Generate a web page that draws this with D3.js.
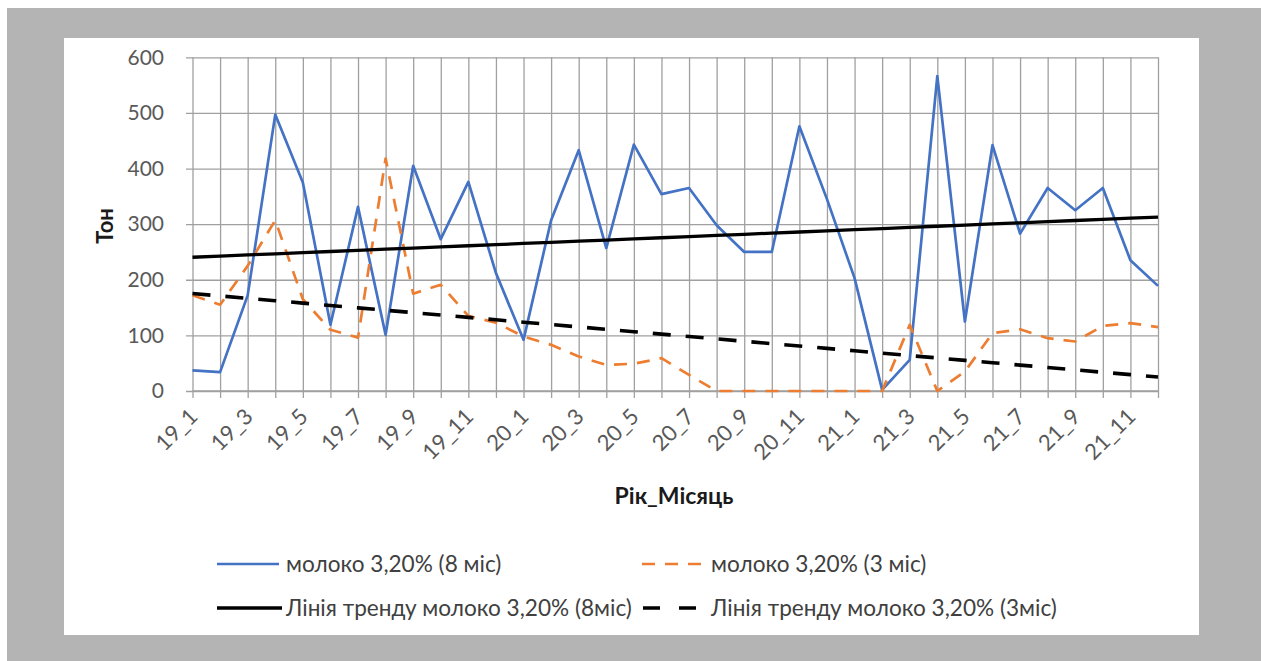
<!DOCTYPE html>
<html>
<head>
<meta charset="utf-8">
<script src="https://cdn.jsdelivr.net/npm/d3@7"></script>
<style>
  html, body { margin: 0; padding: 0; background: #fff; }
  svg { display: block; }
  text { font-family: Lato, "Open Sans", sans-serif; }
</style>
</head>
<body>
<svg id="chart" width="1261" height="661"></svg>
<script>
// Month labels, year_month
const months = [
  "19_1","19_2","19_3","19_4","19_5","19_6","19_7","19_8","19_9","19_10","19_11","19_12",
  "20_1","20_2","20_3","20_4","20_5","20_6","20_7","20_8","20_9","20_10","20_11","20_12",
  "21_1","21_2","21_3","21_4","21_5","21_6","21_7","21_8","21_9","21_10","21_11","21_12"
];

// Milk 3.20%, 8-month shelf life, tonnes
const milk8 = [
  37, 34, 172, 497, 375, 119, 331, 101, 405, 273, 376, 212,
  92, 307, 433, 257, 443, 354, 365, 298, 250, 250, 476, 345,
  203, 2, 56, 566, 125, 442, 283, 365, 325, 365, 235, 189
];

// Milk 3.20%, 3-month shelf life, tonnes
const milk3 = [
  172, 155, 225, 307, 165, 110, 96, 418, 175, 191, 135, 123,
  98, 83, 62, 47, 49, 59, 29, 0, 0, 0, 0, 0,
  0, 0, 119, 0, 35, 104, 111, 95, 89, 117, 122, 115
];

const yTicks = [0, 100, 200, 300, 400, 500, 600];

const seriesNames = [
  "молоко 3,20% (8 міс)",
  "молоко 3,20% (3 міс)",
  "Лінія тренду молоко 3,20% (8міс)",
  "Лінія тренду молоко 3,20% (3міс)"
];

const svg = d3.select("#chart");

// page frame
svg.append("rect").attr("x", 7).attr("y", 8).attr("width", 1254).attr("height", 653).attr("fill", "#b3b4b3");
svg.append("rect").attr("x", 64).attr("y", 38).attr("width", 1135).attr("height", 597).attr("fill", "#ffffff");

const plot = { left: 192.5, right: 1158, top: 57.3, bottom: 391 };

const x = d3.scalePoint().domain(months).range([plot.left, plot.right]);
const y = d3.scaleLinear().domain([0, 600]).range([plot.bottom, plot.top]);

const gridColor = "#a0a0a0";

// vertical gridlines
const xGrid = svg.append("g")
  .attr("transform", `translate(0,${plot.bottom})`)
  .call(d3.axisBottom(x).tickSize(-(plot.bottom - plot.top)).tickFormat(""));
xGrid.select(".domain").remove();
xGrid.selectAll(".tick line").attr("stroke", gridColor).attr("stroke-width", 1.3);

// horizontal gridlines + value labels
const yAxis = svg.append("g")
  .attr("transform", `translate(${plot.left - 6.5},0)`)
  .call(d3.axisLeft(y).tickValues(yTicks).tickSize(-(plot.right - plot.left + 6.5)).tickPadding(22));
yAxis.select(".domain").remove();
yAxis.selectAll(".tick line").attr("stroke", gridColor).attr("stroke-width", 1.3);
yAxis.selectAll(".tick text")
  .attr("fill", "#595959").attr("font-size", 21).attr("font-family", "Lato, sans-serif");

// category axis: tick marks and every second label
const xAxis = svg.append("g")
  .attr("transform", `translate(0,${plot.bottom})`)
  .call(d3.axisBottom(x).tickSize(7).tickFormat((d, i) => i % 2 === 0 ? d : ""));
xAxis.select(".domain").attr("stroke", gridColor).attr("stroke-width", 1.3)
  .attr("d", `M${plot.left},0H${plot.right}`);
xAxis.selectAll(".tick line").attr("stroke", gridColor).attr("stroke-width", 1.3);
xAxis.selectAll(".tick text")
  .attr("fill", "#595959").attr("font-size", 22).attr("font-family", "Lato, sans-serif")
  .attr("text-anchor", "end").attr("dy", null).attr("y", 0)
  .attr("transform", "translate(6,27) rotate(-45)");

// least-squares trend over month index
function trend(values) {
  const n = values.length;
  const xs = d3.range(n);
  const mx = d3.mean(xs), my = d3.mean(values);
  let sxy = 0, sxx = 0;
  xs.forEach((xi, i) => { sxy += (xi - mx) * (values[i] - my); sxx += (xi - mx) ** 2; });
  const b = sxy / sxx, a = my - b * mx;
  return xs.map(xi => a + b * xi);
}
const trend8 = trend(milk8);
const trend3 = trend(milk3);

const line = d3.line().x((d, i) => x(months[i])).y(d => y(d));

const styles = [
  { data: milk8, stroke: "#4472c4", width: 2.7, dash: null, keyDash: null },
  { data: milk3, stroke: "#ed7d31", width: 2.7, dash: "13,10", keyDash: "13,10" },
  { data: trend8, stroke: "#000000", width: 3.3, dash: null, keyDash: null },
  { data: trend3, stroke: "#000000", width: 3.6, dash: "18,15", keyDash: "17,19" }
];

styles.forEach(s => {
  svg.append("path")
    .datum(s.data)
    .attr("d", line)
    .attr("fill", "none")
    .attr("stroke", s.stroke)
    .attr("stroke-width", s.width)
    .attr("stroke-dasharray", s.dash)
    .attr("stroke-linejoin", "round");
});

// axis titles
svg.append("text")
  .attr("transform", "translate(113,226) rotate(-90)")
  .attr("text-anchor", "middle")
  .attr("font-size", 22).attr("font-weight", "bold").attr("fill", "#1a1a1a")
  .text("Тон");
svg.append("text")
  .attr("x", 674).attr("y", 504)
  .attr("text-anchor", "middle")
  .attr("font-size", 23).attr("font-weight", "bold").attr("fill", "#1a1a1a")
  .text("Рік_Місяць");

// legend
const legendPos = [
  { x1: 217, x2: 279, tx: 286, y: 564 },
  { x1: 642, x2: 706, tx: 711, y: 564 },
  { x1: 217, x2: 282, tx: 286, y: 608 },
  { x1: 643, x2: 696, tx: 711, y: 608 }
];
const legend = svg.append("g");
styles.forEach((s, i) => {
  const p = legendPos[i];
  legend.append("line")
    .attr("x1", p.x1).attr("x2", p.x2).attr("y1", p.y).attr("y2", p.y)
    .attr("stroke", s.stroke).attr("stroke-width", s.width)
    .attr("stroke-dasharray", s.keyDash);
  legend.append("text")
    .attr("x", p.tx).attr("y", p.y).attr("dy", "0.35em")
    .attr("font-size", 22.6).attr("fill", "#404040")
    .text(seriesNames[i]);
});
</script>
</body>
</html>
